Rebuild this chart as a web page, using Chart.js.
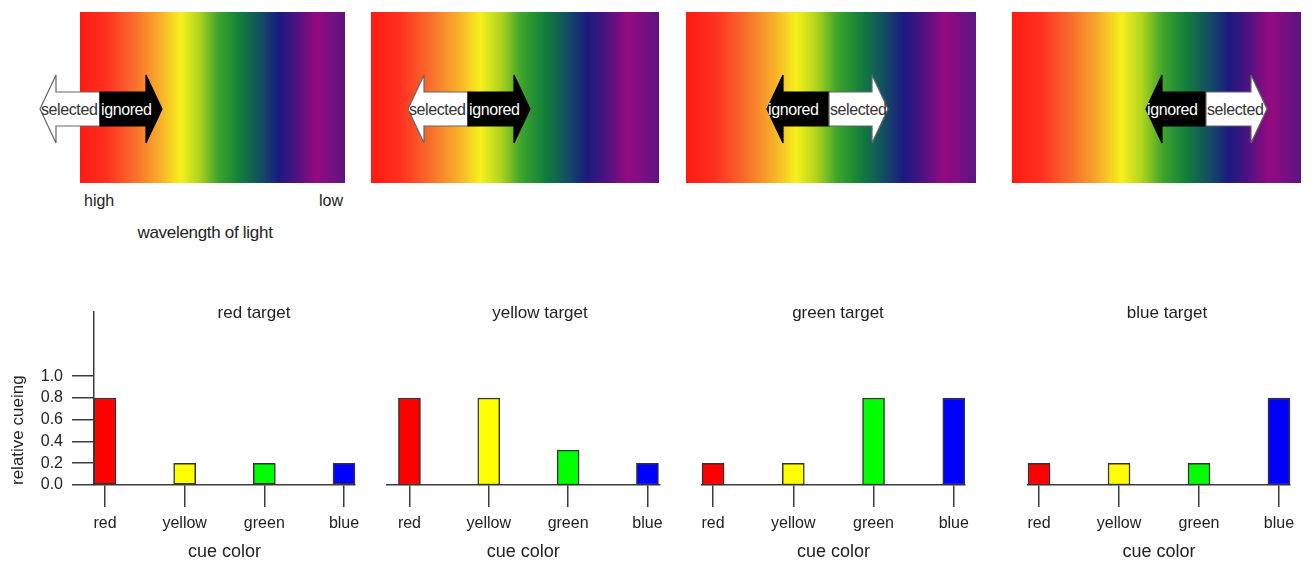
<!DOCTYPE html>
<html lang="en">

<head>
    <meta charset="UTF-8">
    <title>Relative cueing by cue color</title>
    <script src="https://cdn.jsdelivr.net/npm/chart.js"></script>
    <style>
        body {
            margin: 0;
            background: #fff;
            font-family: "Liberation Sans", Arial, sans-serif;
        }

        .figure {
            position: relative;
            width: 1315px;
            height: 563px;
            overflow: hidden;
        }

        .figure svg,
        .figure canvas {
            position: absolute;
            top: 0;
            left: 0;
        }
    </style>
</head>

<body>
    <div class="figure">
        <svg id="spectra" width="1315" height="260"></svg>
        <canvas id="chartRed" width="370" height="273"></canvas>
        <canvas id="chartYellow" width="300" height="273"></canvas>
        <canvas id="chartGreen" width="300" height="273"></canvas>
        <canvas id="chartBlue" width="315" height="273"></canvas>
    </div>

    <script>
        // data
        const cueColors = ['red', 'yellow', 'green', 'blue'];
        const redTarget = [0.8, 0.2, 0.2, 0.2];
        const yellowTarget = [0.8, 0.8, 0.32, 0.2];
        const greenTarget = [0.2, 0.2, 0.8, 0.8];
        const blueTarget = [0.2, 0.2, 0.2, 0.8];
        const targetTitles = ['red target', 'yellow target', 'green target', 'blue target'];
        const yTicks = [0.0, 0.2, 0.4, 0.6, 0.8, 1.0];

        const barFill = ['#ff0000', '#ffff00', '#00ff00', '#0000ff'];
        const axisColor = '#3c3c3c';
        const textColor = '#222';
        const family = '"Liberation Sans", Arial, sans-serif';

        // ---- top row: spectrum panels with arrows (illustration) ----
        const NS = 'http://www.w3.org/2000/svg';
        const svg = document.getElementById('spectra');

        function el(name, attrs, parent) {
            const e = document.createElementNS(NS, name);
            for (const k in attrs) e.setAttribute(k, attrs[k]);
            (parent || svg).appendChild(e);
            return e;
        }

        const defs = el('defs', {});
        const grad = el('linearGradient', { id: 'spec', x1: '0', y1: '0', x2: '1', y2: '0' }, defs);
        [
            [0, '#ff1a12'], [0.1, '#ff3020'], [0.2, '#f86a2c'], [0.3, '#f7ad2a'],
            [0.38, '#f6f01c'], [0.45, '#b0d41e'], [0.52, '#3fa52c'], [0.6, '#12803a'],
            [0.68, '#124f62'], [0.75, '#1c1a80'], [0.81, '#481282'], [0.89, '#950a80'],
            [1, '#5c1482']
        ].forEach(s => el('stop', { offset: s[0], 'stop-color': s[1] }, grad));

        const panels = [[80, 265], [371, 288], [686, 290], [1012, 289]];
        panels.forEach(p => el('rect', { x: p[0], y: 12, width: p[1], height: 171, fill: 'url(#spec)' }));

        // arrows: left tip, split, right tip, which side is "selected"
        const arrows = [
            [40, 100, 162, 'left'],
            [408, 468, 530, 'left'],
            [767, 829, 888, 'right'],
            [1146, 1206, 1267, 'right']
        ];

        function halfArrow(tip, split, dir) {
            const hb = tip + dir * 16;
            return `${split},92 ${hb},92 ${hb},75 ${tip},109 ${hb},143 ${hb},126 ${split},126`;
        }

        arrows.forEach((a, i) => {
            const [L, S, R, selSide] = a;
            const leftSel = selSide === 'left';
            const parts = [
                { tip: L, dir: 1, x0: L, x1: S, sel: leftSel },
                { tip: R, dir: -1, x0: S, x1: R, sel: !leftSel }
            ];
            parts.forEach((p, j) => {
                el('polygon', {
                    points: halfArrow(p.tip, S, p.dir),
                    fill: p.sel ? '#fff' : '#000',
                    stroke: p.sel ? '#666' : '#000',
                    'stroke-width': 1.2
                });
                const cp = el('clipPath', { id: 'c' + i + '_' + j }, defs);
                el('rect', { x: p.x0, y: 80, width: p.x1 - p.x0, height: 60 }, cp);
                const t = el('text', {
                    x: p.x0 + 1, y: 115,
                    'font-size': 16,
                    'font-family': family,
                    'letter-spacing': '-0.4',
                    fill: p.sel ? '#333' : '#fff',
                    'clip-path': `url(#c${i}_${j})`
                });
                t.textContent = p.sel ? 'selected' : 'ignored';
            });
        });

        el('text', { x: 84, y: 206, 'font-size': 16, 'font-family': family, fill: textColor }).textContent = 'high';
        el('text', { x: 343, y: 206, 'font-size': 16, 'font-family': family, fill: textColor, 'text-anchor': 'end' }).textContent = 'low';
        el('text', { x: 205, y: 238, 'font-size': 17, 'font-family': family, fill: textColor, 'text-anchor': 'middle', 'letter-spacing': '-0.3' }).textContent = 'wavelength of light';

        // ---- bottom row: four bar charts ----
        const panelTitle = {
            id: 'panelTitle',
            afterDraw(chart, args, opts) {
                const { ctx, chartArea } = chart;
                ctx.save();
                ctx.font = '17px ' + family;
                ctx.fillStyle = textColor;
                ctx.textAlign = 'center';
                ctx.textBaseline = 'middle';
                ctx.fillText(opts.text, chartArea.left + opts.dx, chartArea.top + 1);
                ctx.restore();
            }
        };

        function makeChart(id, left, values, title, opts) {
            const canvas = document.getElementById(id);
            canvas.style.left = left + 'px';
            canvas.style.top = '290px';
            return new Chart(canvas, {
                type: 'bar',
                data: {
                    datasets: [{
                        data: values.map((v, i) => ({ x: i, y: v })),
                        backgroundColor: barFill,
                        borderColor: '#333',
                        borderWidth: 1.5,
                        borderSkipped: false,
                        barThickness: 22,
                        clip: false
                    }]
                },
                plugins: [panelTitle],
                options: {
                    responsive: false,
                    animation: false,
                    layout: { padding: { top: 22, bottom: 0, left: opts.padLeft, right: opts.padRight } },
                    plugins: {
                        legend: { display: false },
                        tooltip: { enabled: false },
                        panelTitle: { text: title, dx: opts.titleDx }
                    },
                    scales: {
                        x: {
                            type: 'linear',
                            min: opts.xMin,
                            max: opts.xMax,
                            offset: false,
                            grid: {
                                offset: false,
                                drawOnChartArea: false,
                                tickLength: 22,
                                tickColor: axisColor,
                                lineWidth: 1.5
                            },
                            border: { color: axisColor, width: 1.5 },
                            ticks: {
                                padding: 7,
                                color: textColor,
                                autoSkip: false,
                                maxRotation: 0,
                                font: { size: 16, family: family },
                                callback: v => cueColors[v]
                            },
                            afterBuildTicks: s => { s.ticks = cueColors.map((c, i) => ({ value: i })); },
                            afterFit: s => { s.height = 78; },
                            title: {
                                display: true,
                                text: 'cue color',
                                color: textColor,
                                font: { size: 18, family: family },
                                padding: { top: 0, bottom: 0 }
                            }
                        },
                        y: {
                            display: opts.showY,
                            min: 0,
                            max: 1.59,
                            grid: {
                                drawOnChartArea: false,
                                tickLength: 22,
                                tickColor: axisColor,
                                lineWidth: 1.5
                            },
                            border: { color: axisColor, width: 1.5 },
                            ticks: {
                                padding: 9,
                                color: textColor,
                                font: { size: 16, family: family },
                                callback: v => v.toFixed(1)
                            },
                            afterBuildTicks: s => { s.ticks = yTicks.map(v => ({ value: v })); },
                            afterFit: s => { if (opts.showY) s.width = 94; },
                            title: {
                                display: true,
                                text: 'relative cueing',
                                align: 'start',
                                color: textColor,
                                font: { size: 17, family: family },
                                padding: { top: 8, bottom: 0 }
                            }
                        }
                    }
                }
            });
        }

        makeChart('chartRed', 0, redTarget, targetTitles[0],
            { showY: true, padLeft: 0, padRight: 15, xMin: -0.138, xMax: 3.138, titleDx: 160 });
        makeChart('chartYellow', 370, yellowTarget, targetTitles[1],
            { showY: false, padLeft: 17, padRight: 10, xMin: -0.283, xMax: 3.15, titleDx: 153 });
        makeChart('chartGreen', 680, greenTarget, targetTitles[2],
            { showY: false, padLeft: 22, padRight: 15, xMin: -0.138, xMax: 3.14, titleDx: 136 });
        makeChart('chartBlue', 1000, blueTarget, targetTitles[3],
            { showY: false, padLeft: 28, padRight: 25, xMin: -0.138, xMax: 3.138, titleDx: 139 });
    </script>
</body>

</html>
